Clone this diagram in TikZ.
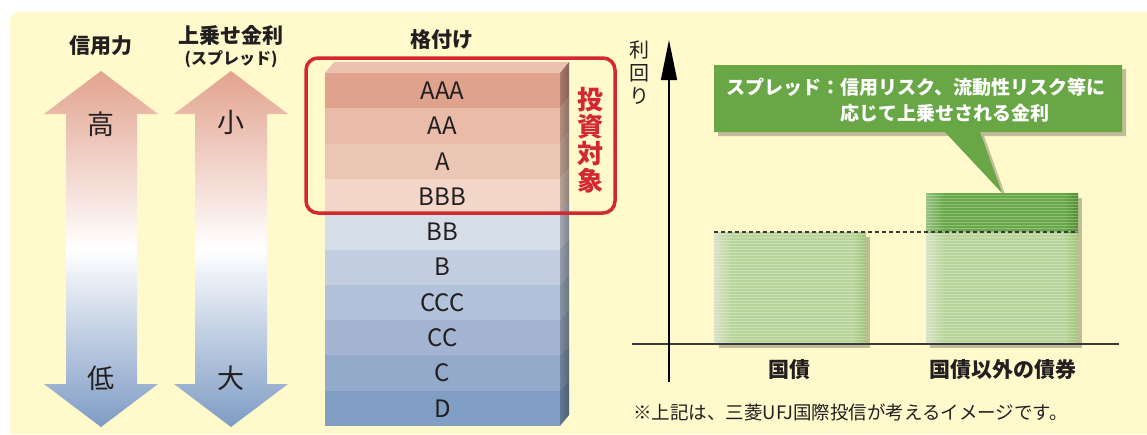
\documentclass[tikz,border=0pt]{standalone}
\usepackage{fontspec}
\setmainfont{Noto Sans CJK JP}
\usetikzlibrary{arrows.meta,calc}
\definecolor{bgyellow}{HTML}{FFF9CC}
\definecolor{arrtop}{HTML}{E2A38E}
\definecolor{arrbot}{HTML}{7E9BC4}
\definecolor{ink}{HTML}{231F20}
\definecolor{redbox}{HTML}{D3282F}
\definecolor{rAAA}{HTML}{DFA28C}
\definecolor{rAA}{HTML}{E9BBA8}
\definecolor{rA}{HTML}{ECC6B5}
\definecolor{rBBB}{HTML}{F2D7C9}
\definecolor{rBB}{HTML}{D5DDE9}
\definecolor{rB}{HTML}{C3CEE1}
\definecolor{rCCC}{HTML}{B2C2DA}
\definecolor{rCC}{HTML}{A3B5D2}
\definecolor{rC}{HTML}{94AACA}
\definecolor{rD}{HTML}{819EC4}
\definecolor{rtop}{HTML}{EBC2B0}
\definecolor{barmain}{HTML}{B9D49A}
\definecolor{barleft}{HTML}{D6E2C4}
\definecolor{barright}{HTML}{9DC477}
\definecolor{sprmain}{HTML}{69A848}
\definecolor{sprleft}{HTML}{95C27F}
\definecolor{sprright}{HTML}{4F8F33}
\definecolor{callout}{HTML}{69A746}
\definecolor{shadowc}{HTML}{8E8A6C}
\definecolor{axisc}{HTML}{3A3A3A}
\tikzset{
  head/.style={font=\bfseries\fontsize{21}{21}\selectfont, text=ink, inner sep=0pt},
  big/.style={font=\fontsize{27}{27}\selectfont, text=ink, inner sep=0pt},
  rating/.style={font=\fontsize{24}{24}\selectfont, text=ink, inner sep=0pt},
  whitetxt/.style={font=\bfseries\fontsize{19}{19}\selectfont, text=white, inner sep=0pt},
  catlabel/.style={font=\bfseries\fontsize{21}{21}\selectfont, text=ink, inner sep=0pt},
  stripe/.style={white, opacity=0.28, line width=1pt},
  shadowbox/.style={fill=shadowc, opacity=0.55}
}
\begin{document}
\begin{tikzpicture}[x=1pt,y=-1pt]
\useasboundingbox (0,0) rectangle (1147,434);
\fill[white] (0,0) rectangle (1147,434);
\fill[bgyellow] (10,434) [rounded corners=9pt] -- (10,12) [sharp corners] -- (1147,12) -- (1147,434) -- cycle;

% ---- credit arrows
\shade[top color=arrtop, bottom color=arrbot, middle color=white]
  (101,71) -- (158,114) -- (137,114) -- (137,384) -- (158,384) -- (101,427)
  -- (44,384) -- (66,384) -- (66,114) -- (44,114) -- cycle;
\shade[top color=arrtop, bottom color=arrbot, middle color=white]
  (231,71) -- (288,114) -- (267,114) -- (267,384) -- (288,384) -- (231,427)
  -- (174,384) -- (195,384) -- (195,114) -- (174,114) -- cycle;
\node[head] (credit) at (101,46) {信用力};
\node[head] (spread) at (231,35) {上乗せ金利};
\node[font=\bfseries\fontsize{16}{16}\selectfont, text=ink, inner sep=0pt] (spreadsub) at (231,59) {(スプレッド)};
\node[big] (high) at (101,124) {高};
\node[big] (low) at (101,378) {低};
\node[big] (small) at (231,122) {小};
\node[big] (large) at (231,378) {大};

% ---- rating column
\node[head] (ratinghead) at (442,40) {格付け};
\fill[rtop] (325,73) -- (334,62) -- (569,62) -- (560,73) -- cycle;
\foreach \c/\t [count=\i from 0] in {rAAA/AAA,rAA/AA,rA/A,rBBB/BBB,rBB/BB,rB/B,rCCC/CCC,rCC/CC,rC/C,rD/D}{
  \pgfmathsetmacro{\ya}{73+35.3*\i}
  \pgfmathsetmacro{\yb}{73+35.3*(\i+1)}
  \fill[\c] (325,\ya) rectangle (560,\yb);
  \shade[left color=\c!75!black, right color=\c!60!black] (560,\ya) -- (569,\ya-11) -- (569,\yb-11) -- (560,\yb) -- cycle;
  \node[rating] (r\i) at (442.5,{(\ya+\yb)/2}) {\t};
}
\draw[redbox, line width=3.5pt, rounded corners=12pt] (306,58) rectangle (615,213);
\node[font=\bfseries\fontsize{26}{27}\selectfont, text=redbox, align=center, inner sep=0pt] (invest) at (590,140) {投\\資\\対\\象};

% ---- yield chart
\coordinate (yorigin) at (669,382);
\coordinate (ytip) at (669,40);
\coordinate (xleft) at (632,344);
\coordinate (xright) at (1119,344);
\node[font=\fontsize{20}{23}\selectfont, text=ink, align=center, inner sep=0pt] (yieldlab) at (639,73) {利\\回\\り};

% bar shadows
\fill[shadowbox] (719,237) rectangle (870,348);
\fill[shadowbox] (930,198) rectangle (1082,348);
% bar 1
\fill[barmain] (714,232) rectangle (866,344);
\shade[left color=barleft, right color=barmain] (714,232) rectangle (732,344);
\shade[left color=barmain, right color=barright] (852,232) rectangle (866,344);
\foreach \y in {234,237,...,343} \draw[stripe] (714,\y) -- (866,\y);
% bar 2 lower
\fill[barmain] (926,232) rectangle (1078,344);
\shade[left color=barleft, right color=barmain] (926,232) rectangle (944,344);
\shade[left color=barmain, right color=barright] (1064,232) rectangle (1078,344);
\foreach \y in {234,237,...,343} \draw[stripe] (926,\y) -- (1078,\y);
% bar 2 spread
\fill[sprmain] (926,193) rectangle (1078,232);
\shade[left color=sprleft, right color=sprmain] (926,193) rectangle (944,232);
\shade[left color=sprmain, right color=sprright] (1064,193) rectangle (1078,232);
\foreach \y in {195,198,...,231} \draw[stripe] (926,\y) -- (1078,\y);
\coordinate (base1) at (714,232);
\coordinate (base2) at (1078,232);
\draw[axisc, line width=2pt, dash pattern=on 4pt off 3pt] (base1) -- (base2);

% axes
\draw[axisc, line width=1.6pt] (xleft) -- (xright);
\draw[black, line width=1.4pt, -{Triangle[length=40pt,width=16pt]}] (yorigin) -- (ytip);

% callout
\fill[shadowbox] (718,69) -- (1126,69) -- (1126,136) -- (984,136) -- (1006,197) -- (949,136) -- (718,136) -- cycle;
\fill[callout] (714,65) -- (1122,65) -- (1122,132) -- (980,132) -- (1002,193) -- (945,132) -- (714,132) -- cycle;
\node[whitetxt] (call1) at (916,87) {スプレッド：信用リスク、流動性リスク等に};
\node[whitetxt] (call2) at (945,113) {応じて上乗せされる金利};

\node[catlabel] (jgb) at (789,370) {国債};
\node[catlabel] (other) at (1003,370) {国債以外の債券};
\node[font=\fontsize{18.5}{18.5}\selectfont, text=ink, anchor=west, inner sep=0pt] (note) at (633,412) {※上記は、三菱UFJ国際投信が考えるイメージです。};
\end{tikzpicture}
\end{document}
